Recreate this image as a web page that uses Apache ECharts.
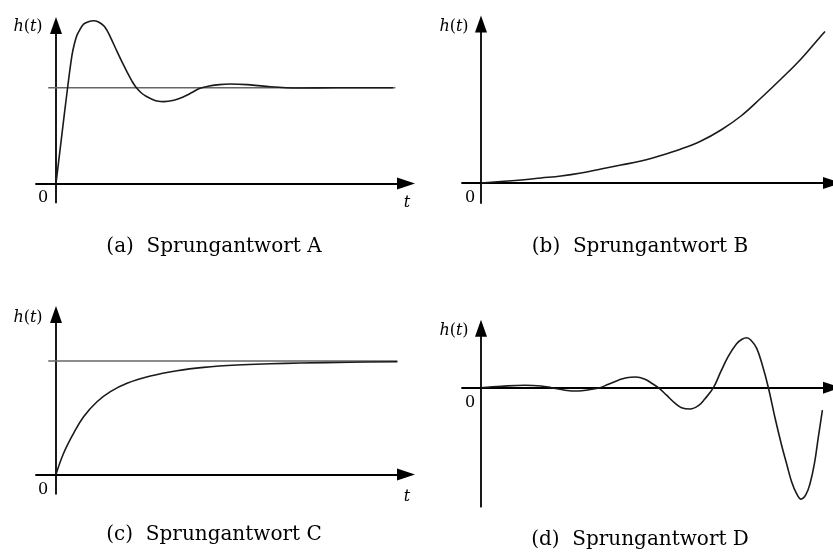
<!DOCTYPE html>
<html>
<head>
<meta charset="utf-8">
<script src="https://cdn.jsdelivr.net/npm/echarts@6/dist/echarts.min.js"></script>
<style>
  html, body { margin: 0; padding: 0; background: #fff; }
  #main { width: 833px; height: 552px; }
</style>
</head>
<body>
<div id="main"></div>
<script>
  // Sprungantworten (t, h(t))
  var respA = [[0, 0], [0.3, 0.52], [0.58, 1.0], [0.8, 1.34], [0.92, 1.46], [1.05, 1.55], [1.2, 1.61],
    [1.38, 1.665], [1.62, 1.69], [1.88, 1.7], [2.1, 1.69], [2.38, 1.65], [2.55, 1.6], [2.72, 1.53],
    [3.05, 1.38], [3.3, 1.27], [3.55, 1.167], [3.8, 1.07], [4.02, 1.0], [4.3, 0.94], [4.55, 0.906],
    [4.8, 0.88], [5.05, 0.862], [5.38, 0.855], [5.9, 0.87], [6.38, 0.906], [6.8, 0.95], [7.2, 0.994],
    [7.6, 1.015], [8.05, 1.03], [8.72, 1.04], [9.72, 1.03], [10.72, 1.01], [11.5, 1.0], [12.2, 0.998],
    [14.0, 1.0], [15.5, 1.0], [16.85, 1.0]]
  var respB = [[0, 0], [1, 0.03], [2, 0.06], [3, 0.1], [4, 0.14], [5, 0.2], [6, 0.28], [7, 0.36], [8, 0.44],
    [9, 0.55], [10, 0.68], [11, 0.84], [12, 1.06], [13, 1.34], [14, 1.7], [15, 2.08], [16, 2.48],
    [17, 2.94], [17.2, 3.03]]
  var respC = [[0, 0], [0.38, 0.187], [0.88, 0.363], [1.38, 0.509], [2.05, 0.641], [2.72, 0.73], [3.55, 0.804],
    [4.72, 0.868], [6.05, 0.915], [7.38, 0.944], [9.05, 0.965], [10.72, 0.976], [12.22, 0.982],
    [14.7, 0.989], [17.07, 0.994]]
  var respD = [[0, 0], [1.03, 0.03], [2.2, 0.05], [3.0, 0.035], [3.53, 0], [4.2, -0.05], [4.87, -0.067],
    [5.4, -0.04], [5.95, 0], [6.37, 0.07], [6.87, 0.15], [7.28, 0.2], [7.73, 0.213], [8.2, 0.17],
    [8.53, 0.09], [8.87, 0], [9.28, -0.15], [9.7, -0.31], [10.03, -0.4], [10.45, -0.427], [10.87, -0.36],
    [11.2, -0.22], [11.62, 0], [12.0, 0.33], [12.37, 0.63], [12.78, 0.88], [13.05, 0.97], [13.28, 1.0],
    [13.5, 0.95], [13.78, 0.79], [14.07, 0.45], [14.37, 0], [14.7, -0.6], [15.03, -1.15], [15.3, -1.55],
    [15.53, -1.88], [15.78, -2.12], [16.0, -2.23], [16.23, -2.15], [16.45, -1.92], [16.67, -1.52],
    [16.87, -0.98], [17.07, -0.45]]
  // Endwert-Linien (A und C)
  var finalA = [[-0.39, 1], [16.97, 1]]
  var finalC = [[-0.39, 1], [17.07, 1]]

  var captions = ['(a)  Sprungantwort A', '(b)  Sprungantwort B', '(c)  Sprungantwort C', '(d)  Sprungantwort D']

  var grids = [
    { left: 36, top: 25.6, width: 370, height: 176.9 },
    { left: 462, top: 24, width: 370, height: 179 },
    { left: 36, top: 314.5, width: 370, height: 179.3 },
    { left: 462, top: 328.2, width: 370, height: 178.5 }
  ]
  var xRange = [[-1, 17.5], [-0.95, 17.55], [-1, 17.5], [-0.95, 17.55]]
  var yRange = [[-0.2, 1.65], [-0.4, 3.18], [-0.17, 1.41], [-2.38, 1.19]]

  function axis(i, kind) {
    var r = kind === 'x' ? xRange[i] : yRange[i]
    return {
      type: 'value',
      gridIndex: i,
      min: r[0],
      max: r[1],
      axisLine: {
        show: true,
        onZero: true,
        symbol: ['none', 'triangle'],
        symbolSize: kind === 'x' ? [12, 18] : [12, 17],
        lineStyle: { color: '#000', width: 1.8 }
      },
      axisTick: { show: false },
      axisLabel: { show: false },
      splitLine: { show: false }
    }
  }

  function curve(i, data) {
    return {
      type: 'line', xAxisIndex: i, yAxisIndex: i, data: data,
      smooth: 0.4, showSymbol: false, symbol: 'none', clip: false,
      lineStyle: { color: '#1a1a1a', width: 1.6 }, z: 3
    }
  }
  function refLine(i, data) {
    return {
      type: 'line', xAxisIndex: i, yAxisIndex: i, data: data,
      showSymbol: false, symbol: 'none', clip: false,
      lineStyle: { color: '#666', width: 1.5 }, z: 2
    }
  }

  var serif = '"DejaVu Serif", "Liberation Serif", serif'
  function txt(x, y, text, size, rich) {
    var t = {
      type: 'text', x: x, y: y, silent: true,
      style: { text: text, align: 'center', verticalAlign: 'middle',
        font: size + 'px ' + serif, fill: '#000' }
    }
    if (rich) {
      t.style.rich = { i: { fontStyle: 'italic', fontSize: size, fontFamily: serif } }
    }
    return t
  }

  var graphics = [
    txt(214, 247, captions[0], 20), txt(640, 247, captions[1], 20),
    txt(214, 535, captions[2], 20), txt(640, 540, captions[3], 20),
    txt(28, 27, '{i|h}({i|t})', 16, true), txt(454, 27, '{i|h}({i|t})', 16, true),
    txt(28, 318, '{i|h}({i|t})', 16, true), txt(454, 331, '{i|h}({i|t})', 16, true),
    txt(43, 198, '0', 16), txt(470, 198, '0', 16), txt(43, 490, '0', 16), txt(470, 403, '0', 16),
    txt(407, 203, '{i|t}', 16, true), txt(838, 203, '{i|t}', 16, true),
    txt(407, 497, '{i|t}', 16, true), txt(838, 407, '{i|t}', 16, true)
  ]

  var chart = echarts.init(document.getElementById('main'))
  chart.setOption({
    animation: false,
    backgroundColor: '#fff',
    grid: grids,
    xAxis: [axis(0, 'x'), axis(1, 'x'), axis(2, 'x'), axis(3, 'x')],
    yAxis: [axis(0, 'y'), axis(1, 'y'), axis(2, 'y'), axis(3, 'y')],
    series: [
      refLine(0, finalA), curve(0, respA),
      curve(1, respB),
      refLine(2, finalC), curve(2, respC),
      curve(3, respD)
    ],
    graphic: graphics
  })
</script>
</body>
</html>
